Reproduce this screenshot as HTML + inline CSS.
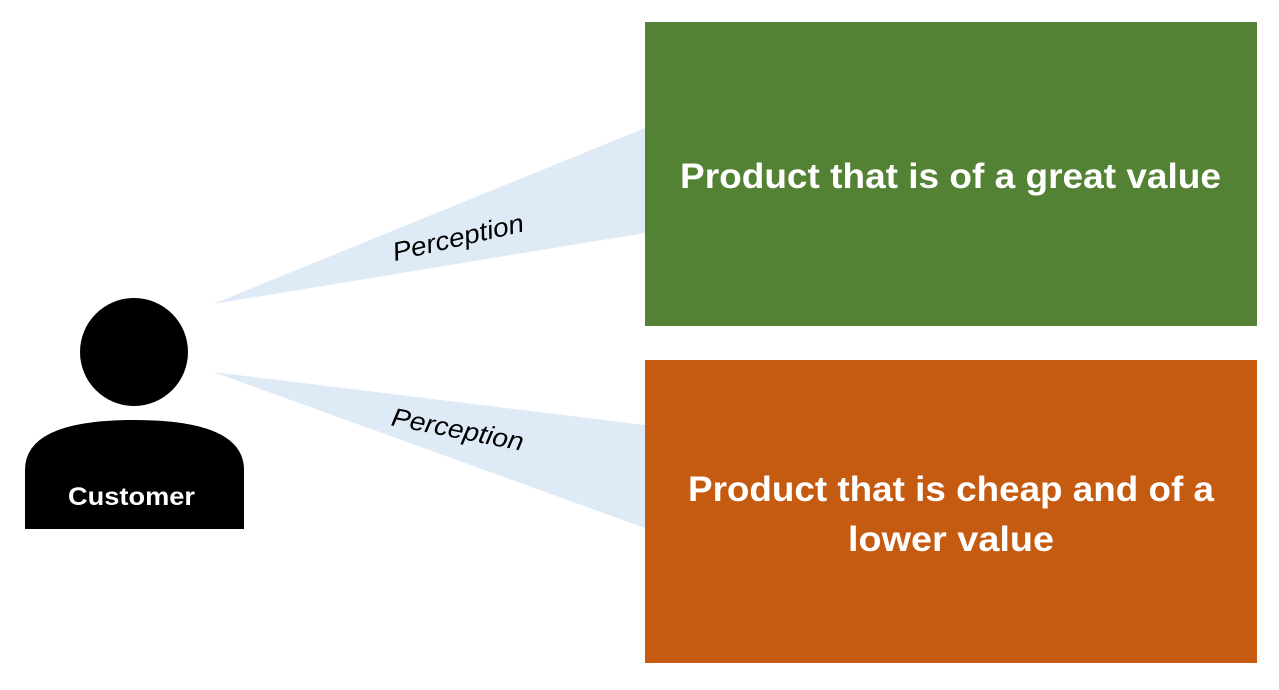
<!DOCTYPE html>
<html><head><meta charset="utf-8"><style>
html,body{margin:0;padding:0;background:#fff;}
body{width:1279px;height:690px;position:relative;overflow:hidden;font-family:"Liberation Sans",sans-serif;}
</style></head><body>
<svg width="1279" height="690" style="position:absolute;left:0;top:0">
<polygon points="213,304 645,128 645,233" fill="#DEEBF7"/>
<polygon points="213,372 645,425 645,528" fill="#DEEBF7"/>
<rect x="645" y="22" width="612" height="304" fill="#548235"/>
<rect x="645" y="360" width="612" height="303" fill="#C55A11"/>
<circle cx="134" cy="352" r="54" fill="#000"/>
<path d="M25,529 L25,470 Q25,420 134,420 Q244,420 244,470 L244,529 Z" fill="#000"/>
<text x="68" y="505" fill="#fff" font-size="25" font-weight="bold" textLength="127" lengthAdjust="spacingAndGlyphs" font-family="Liberation Sans, sans-serif">Customer</text>
<text x="680" y="188" fill="#fff" font-size="35" font-weight="bold" textLength="541" lengthAdjust="spacingAndGlyphs" font-family="Liberation Sans, sans-serif">Product that is of a great value</text>
<text x="688" y="501" fill="#fff" font-size="35" font-weight="bold" textLength="526" lengthAdjust="spacingAndGlyphs" font-family="Liberation Sans, sans-serif">Product that is cheap and of a</text>
<text x="848" y="551" fill="#fff" font-size="35" font-weight="bold" textLength="206" lengthAdjust="spacingAndGlyphs" font-family="Liberation Sans, sans-serif">lower value</text>
<text transform="translate(460,246) rotate(-13)" font-size="26" font-style="italic" text-anchor="middle" textLength="134" lengthAdjust="spacingAndGlyphs" fill="#000" font-family="Liberation Sans, sans-serif">Perception</text>
<text transform="translate(456,438) rotate(11)" font-size="26" font-style="italic" text-anchor="middle" textLength="134" lengthAdjust="spacingAndGlyphs" fill="#000" font-family="Liberation Sans, sans-serif">Perception</text>
</svg>
</body></html>
